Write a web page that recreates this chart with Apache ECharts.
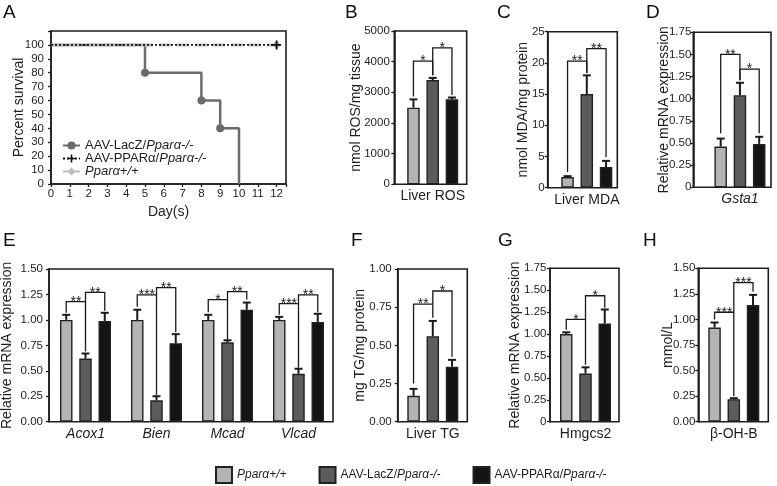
<!DOCTYPE html>
<html><head><meta charset="utf-8">
<script src="https://cdn.jsdelivr.net/npm/echarts@6/dist/echarts.min.js"></script>
<style>html,body{margin:0;padding:0;background:#fff}#c{width:777px;height:486px}</style>
</head><body><div id="c"></div>
<script>
// ===================== DATA =====================
// Panel A: Kaplan-Meier survival
const daysLacZ = [0, 5, 8, 9, 10];
const survLacZ = [100, 80, 60, 40, 0];
const daysPPAR = [0, 12];
const survPPAR = [100, 100];
const daysWT = [0, 12];
const survWT = [100, 100];
const dayTicks = ['0','1','2','3','4','5','6','7','8','9','10','11','12'];
const survTicks = ['0','10','20','30','40','50','60','70','80','90','100'];

// Series keys / display names
const groupKeys = ['wt', 'lacz', 'ppar'];

// Panel B: Liver ROS
const catB = ['Liver ROS'];
const rosMean = [2500, 3400, 2770];
const rosErr = [270, 70, 60];
const rosTicks = ['0','1000','2000','3000','4000','5000'];
// significance brackets: [group, barA, barB, topLevel, legBottomA, legBottomB, nStars]
const sigB = [[0,0,1,4020,2860,3560,1],[0,1,2,4450,3560,2910,1]];

// Panel C: Liver MDA
const catC = ['Liver MDA'];
const mdaMean = [1.7, 15.0, 3.3];
const mdaErr = [0.15, 3.0, 1.0];
const mdaTicks = ['0','5','10','15','20','25'];
const sigC = [[0,0,1,20.3,2.5,18.4,2],[0,1,2,22.3,18.4,4.9,2]];

// Panel D: Gsta1
const catD = ['Gsta1'];
const gstaMean = [0.46, 1.04, 0.49];
const gstaErr = [0.09, 0.14, 0.08];
const ticksD = ['0','0.25','0.50','0.75','1.00','1.25','1.50','1.75'];
const sigD = [[0,0,1,1.50,0.61,1.21,2],[0,1,2,1.335,1.21,0.61,1]];

// Panel E: FAO genes
const catE = ['Acox1', 'Bien', 'Mcad', 'Vlcad'];
const wtE = [1.00, 1.00, 1.00, 1.00];
const wtErrE = [0.05, 0.10, 0.05, 0.03];
const laczE = [0.62, 0.21, 0.78, 0.47];
const laczErrE = [0.05, 0.04, 0.02, 0.05];
const pparE = [0.99, 0.77, 1.10, 0.98];
const pparErrE = [0.08, 0.09, 0.07, 0.08];
const ticksE = ['0.00','0.25','0.50','0.75','1.00','1.25','1.50'];
const sigE = [
  [0,0,1,1.18,1.07,0.69,2],[0,1,2,1.27,1.18,1.09,2],
  [1,0,1,1.245,1.13,0.26,3],[1,1,2,1.317,1.245,0.88,2],
  [2,0,1,1.20,1.075,0.81,1],[2,1,2,1.277,1.20,1.20,2],
  [3,0,1,1.16,1.05,0.53,3],[3,1,2,1.245,1.16,1.075,2]
];

// Panel F: Liver TG
const catF = ['Liver TG'];
const tgMean = [0.17, 0.56, 0.36];
const tgErr = [0.045, 0.10, 0.045];
const ticksF = ['0.00','0.25','0.50','0.75','1.00'];
const sigF = [[0,0,1,0.77,0.25,0.68,2],[0,1,2,0.856,0.77,0.425,1]];

// Panel G: Hmgcs2
const catG = ['Hmgcs2'];
const hmgMean = [1.00, 0.55, 1.12];
const hmgErr = [0.02, 0.07, 0.16];
const ticksG = ['0','0.25','0.50','0.75','1.00','1.25','1.50','1.75'];
const sigG = [[0,0,1,1.167,1.05,0.65,1],[0,1,2,1.437,1.167,1.30,1]];

// Panel H: beta-OH-B
const catH = ['β-OH-B'];
const bohMean = [0.92, 0.22, 1.14];
const bohErr = [0.05, 0.01, 0.10];
const ticksH = ['0.00','0.25','0.50','0.75','1.00','1.25','1.50'];
const sigH = [[0,0,1,1.07,1.0,0.25,3],[0,1,2,1.36,1.07,1.27,3]];

// ===================== STYLE / LAYOUT =====================
const FONT = 'Liberation Sans, Arial, Helvetica, sans-serif';
const INK = '#1e1e1e';
const BAR_COLORS = ['#b4b4b4', '#5c5c5c', '#141414'];
const BAR_W = 12.5, GAP_FRAC = 0.54;
const STEP = BAR_W * (1 + GAP_FRAC);
const CAP = 8;

const grids = [], xAxes = [], yAxes = [], series = [];

function tickFormatter(ticks, min, interval) {
  return function (v) {
    const i = Math.round((v - min) / interval);
    if (Math.abs(v - (min + i * interval)) > 1e-6) return '';
    return ticks[i] !== undefined ? ticks[i] : '';
  };
}

function frameYAxis(gi, min, max, interval, ticks, name, nameGap, margin, fs) {
  return {
    gridIndex: gi, type: 'value', min: min, max: max, interval: interval,
    name: name, nameLocation: 'middle', nameGap: nameGap, nameMoveOverlap: false,
    nameTextStyle: { fontSize: 14, color: INK, fontFamily: FONT },
    axisLine: { show: true, lineStyle: { color: INK, width: 1.6 } },
    axisTick: { show: true, inside: false, length: 3, lineStyle: { color: INK, width: 1.3 } },
    axisLabel: { fontSize: fs || 11.5, color: INK, fontFamily: FONT, margin: margin,
      formatter: tickFormatter(ticks, min, interval) },
    splitLine: { show: false }
  };
}

function barPanel(cfg) {
  const [l, t, w, h] = cfg.frame;
  const fg = grids.length;
  grids.push({ left: l, top: t, width: w, height: h, show: true, borderColor: INK, borderWidth: 1.6,
    backgroundColor: 'transparent', containLabel: false, outerBoundsMode: 'none' });
  const dg = grids.length;
  grids.push({ left: l + cfg.shift, top: t, width: w, height: h, show: false,
    containLabel: false, outerBoundsMode: 'none' });
  xAxes.push({ gridIndex: fg, type: 'category', data: cfg.cats, show: false });
  yAxes.push(frameYAxis(fg, cfg.min, cfg.max, cfg.interval, cfg.ticks, cfg.name, cfg.nameGap, cfg.margin));
  const xi = xAxes.length;
  xAxes.push({ gridIndex: dg, type: 'category', data: cfg.cats,
    axisLine: { show: false }, axisTick: { show: false }, splitLine: { show: false },
    axisLabel: { fontSize: 14, color: INK, fontFamily: FONT, margin: 5,
      fontStyle: cfg.italic ? 'italic' : 'normal', interval: 0 } });
  const yi = yAxes.length;
  yAxes.push({ gridIndex: dg, type: 'value', min: cfg.min, max: cfg.max, interval: cfg.interval, show: false,
    splitLine: { show: false } });

  for (let s = 0; s < 3; s++) {
    series.push({
      type: 'bar', name: groupKeys[s], xAxisIndex: xi, yAxisIndex: yi,
      data: cfg.means[s], barWidth: BAR_W, barGap: (GAP_FRAC * 100) + '%',
      itemStyle: { color: BAR_COLORS[s], borderColor: '#222', borderWidth: 1.4 },
      silent: true, z: 2
    });
  }
  // error bars
  const errData = [];
  for (let g = 0; g < cfg.cats.length; g++)
    for (let s = 0; s < 3; s++) errData.push([g, s, cfg.means[s][g], cfg.errs[s][g]]);
  series.push({
    type: 'custom', xAxisIndex: xi, yAxisIndex: yi, data: errData, silent: true, z: 3,
    encode: { x: 0, y: 2 },
    renderItem: function (params, api) {
      const g = api.value(0), s = api.value(1), m = api.value(2), e = api.value(3);
      const p0 = api.coord([g, m]), p1 = api.coord([g, m + e]);
      const x = p0[0] + (s - 1) * STEP;
      const st = { stroke: '#1a1a1a', lineWidth: 2 };
      return { type: 'group', children: [
        { type: 'line', shape: { x1: x, y1: p0[1], x2: x, y2: p1[1] }, style: st },
        { type: 'line', shape: { x1: x - CAP / 2, y1: p1[1], x2: x + CAP / 2, y2: p1[1] }, style: st }
      ] };
    }
  });
  // significance brackets
  series.push({
    type: 'custom', xAxisIndex: xi, yAxisIndex: yi, data: cfg.sig, silent: true, z: 4,
    encode: { x: 0, y: 3 },
    renderItem: function (params, api) {
      const g = api.value(0), a = api.value(1), b = api.value(2);
      const top = api.coord([g, api.value(3)]);
      const ba = api.coord([g, api.value(4)]), bb = api.coord([g, api.value(5)]);
      const n = api.value(6);
      const xa = top[0] + (a - 1) * STEP, xb = top[0] + (b - 1) * STEP;
      return { type: 'group', children: [
        { type: 'polyline', shape: { points: [[xa, ba[1]], [xa, top[1]], [xb, top[1]], [xb, bb[1]]] },
          style: { stroke: '#1a1a1a', lineWidth: 1.3, fill: null } },
        { type: 'text', x: (xa + xb) / 2, y: top[1] + 0.5,
          style: { text: '*'.repeat(n), align: 'center', verticalAlign: 'middle',
            fontSize: 14, fontFamily: FONT, fill: '#1a1a1a' } }
      ] };
    }
  });
}

// ---------- Panel A ----------
(function () {
  const gi = grids.length;
  grids.push({ left: 51, top: 31, width: 235, height: 153, show: true, borderColor: INK, borderWidth: 1.6,
    backgroundColor: 'transparent', containLabel: false, outerBoundsMode: 'none' });
  xAxes.push({
    gridIndex: gi, type: 'value', min: 0, max: 12.5, interval: 1,
    name: 'Day(s)', nameLocation: 'middle', nameGap: 21, nameMoveOverlap: false,
    nameTextStyle: { fontSize: 14, color: INK, fontFamily: FONT },
    axisLine: { show: true, lineStyle: { color: INK, width: 1.6 } },
    axisTick: { show: true, length: 3, lineStyle: { color: INK, width: 1.3 } },
    axisLabel: { fontSize: 11.5, color: INK, fontFamily: FONT, margin: 4,
      formatter: tickFormatter(dayTicks, 0, 1) },
    splitLine: { show: false }
  });
  yAxes.push(frameYAxis(gi, 0, 110, 10, survTicks, 'Percent survival', 25, 7, 11.5));
  const ax = xAxes.length - 1, ay = yAxes.length - 1;
  const ends = (arr, i) => (i === 0 || i === arr.length - 1) ? 'none' : undefined;
  series.push({
    type: 'line', name: 'aLacZ', xAxisIndex: ax, yAxisIndex: ay, step: 'end', silent: true,
    data: daysLacZ.map((d, i) => { const o = { value: [d, survLacZ[i]] }; if (ends(daysLacZ, i)) o.symbol = 'none'; return o; }),
    symbol: 'circle', symbolSize: 8, showAllSymbol: true,
    lineStyle: { color: '#6b6b6b', width: 2.5 }, itemStyle: { color: '#6b6b6b' }, z: 2
  });
  series.push({
    type: 'line', name: 'aWT', xAxisIndex: ax, yAxisIndex: ay, silent: true,
    data: daysWT.map((d, i) => i === 0 ? { value: [d, survWT[i]], symbol: 'none' } : { value: [d, survWT[i]] }),
    symbol: 'diamond', symbolSize: 9,
    lineStyle: { color: '#bdbdbd', width: 3, type: 'dashed' }, itemStyle: { color: '#bdbdbd' }, z: 3
  });
  series.push({
    type: 'line', name: 'aPPAR', xAxisIndex: ax, yAxisIndex: ay, silent: true,
    data: daysPPAR.map((d, i) => i === 0 ? { value: [d, survPPAR[i]], symbol: 'none' } : { value: [d, survPPAR[i]] }),
    symbol: 'path://M4,0h2v4h4v2h-4v4h-2v-4h-4v-2h4z', symbolSize: 9,
    lineStyle: { color: '#111', width: 1.8, type: [2, 2] }, itemStyle: { color: '#111' }, z: 4
  });
})();

barPanel({ frame: [394.3, 31, 72.4, 153.3], shift: 2.2, cats: catB, italic: false,
  min: 0, max: 5000, interval: 1000, ticks: rosTicks, name: 'nmol ROS/mg tissue', nameGap: 31.5, margin: 4.5,
  means: [[rosMean[0]], [rosMean[1]], [rosMean[2]]], errs: [[rosErr[0]], [rosErr[1]], [rosErr[2]]], sig: sigB });
barPanel({ frame: [547.7, 31.7, 69.6, 156], shift: 4.3, cats: catC, italic: false,
  min: 0, max: 25, interval: 5, ticks: mdaTicks, name: 'nmol MDA/mg protein', nameGap: 17.5, margin: 3,
  means: [[mdaMean[0]], [mdaMean[1]], [mdaMean[2]]], errs: [[mdaErr[0]], [mdaErr[1]], [mdaErr[2]]], sig: sigC });
barPanel({ frame: [693.3, 32.3, 77.7, 155], shift: 7.8, cats: catD, italic: true,
  min: 0, max: 1.75, interval: 0.25, ticks: ticksD, name: 'Relative mRNA expression', nameGap: 22, margin: 2,
  means: [[gstaMean[0]], [gstaMean[1]], [gstaMean[2]]], errs: [[gstaErr[0]], [gstaErr[1]], [gstaErr[2]]], sig: sigD });
barPanel({ frame: [49, 269, 284, 152.7], shift: 1, cats: catE, italic: true,
  min: 0, max: 1.5, interval: 0.25, ticks: ticksE, name: 'Relative mRNA expression', nameGap: 35, margin: 6,
  means: [wtE, laczE, pparE], errs: [wtErrE, laczErrE, pparErrE], sig: sigE });
barPanel({ frame: [397.7, 269, 69.6, 152.7], shift: 0.3, cats: catF, italic: false,
  min: 0, max: 1, interval: 0.25, ticks: ticksF, name: 'mg TG/mg protein', nameGap: 31, margin: 6,
  means: [[tgMean[0]], [tgMean[1]], [tgMean[2]]], errs: [[tgErr[0]], [tgErr[1]], [tgErr[2]]], sig: sigF });
barPanel({ frame: [550, 268.3, 69, 153.4], shift: 1, cats: catG, italic: false,
  min: 0, max: 1.75, interval: 0.25, ticks: ticksG, name: 'Relative mRNA expression', nameGap: 28, margin: 3.5,
  means: [[hmgMean[0]], [hmgMean[1]], [hmgMean[2]]], errs: [[hmgErr[0]], [hmgErr[1]], [hmgErr[2]]], sig: sigG });
barPanel({ frame: [698.3, 268.3, 70, 153.4], shift: 0.5, cats: catH, italic: false,
  min: 0, max: 1.5, interval: 0.25, ticks: ticksH, name: 'mmol/L', nameGap: 23, margin: 3,
  means: [[bohMean[0]], [bohMean[1]], [bohMean[2]]], errs: [[bohErr[0]], [bohErr[1]], [bohErr[2]]], sig: sigH });

const legendLabels = {
  aLacZ: 'AAV-LacZ/{i|Pparα-/-}', aPPAR: 'AAV-PPARα/{i|Pparα-/-}', aWT: '{i|Pparα+/+}',
  wt: '{i|Pparα+/+}', lacz: 'AAV-LacZ/{i|Pparα-/-}', ppar: 'AAV-PPARα/{i|Pparα-/-}'
};

const letters = [['A', 3, 3], ['B', 345, 3], ['C', 497, 3], ['D', 646, 3],
                 ['E', 3, 231], ['F', 351, 231], ['G', 498, 231], ['H', 643, 231]];

const option = {
  animation: false,
  backgroundColor: '#ffffff',
  textStyle: { fontFamily: FONT },
  grid: grids, xAxis: xAxes, yAxis: yAxes, series: series,
  legend: [
    { data: ['aLacZ', 'aPPAR', 'aWT'], orient: 'vertical', left: 62, top: 139, itemGap: 0, padding: 0,
      itemWidth: 17, itemHeight: 10, selectedMode: false,
      formatter: n => legendLabels[n],
      textStyle: { fontSize: 13, lineHeight: 13, color: INK, fontFamily: FONT,
        rich: { i: { fontStyle: 'italic', fontSize: 13, lineHeight: 13, color: INK, fontFamily: FONT } } } },
    { data: groupKeys.map(k => ({ name: k, icon: 'rect' })), orient: 'horizontal', left: 215, top: 466, padding: 0,
      itemGap: 32, itemWidth: 16, itemHeight: 16, selectedMode: false,
      formatter: n => legendLabels[n],
      textStyle: { fontSize: 12, color: INK, fontFamily: FONT, rich: { i: { fontStyle: 'italic', fontSize: 12, color: INK, fontFamily: FONT } } } }
  ],
  graphic: letters.map(([t, x, y]) => ({ type: 'text', left: x, top: y, silent: true,
    style: { text: t, fontSize: 19, fill: '#111', fontFamily: FONT } }))
};

const chart = echarts.init(document.getElementById('c'), null, { renderer: 'canvas', width: 777, height: 486 });
chart.setOption(option);
</script>
</body></html>
